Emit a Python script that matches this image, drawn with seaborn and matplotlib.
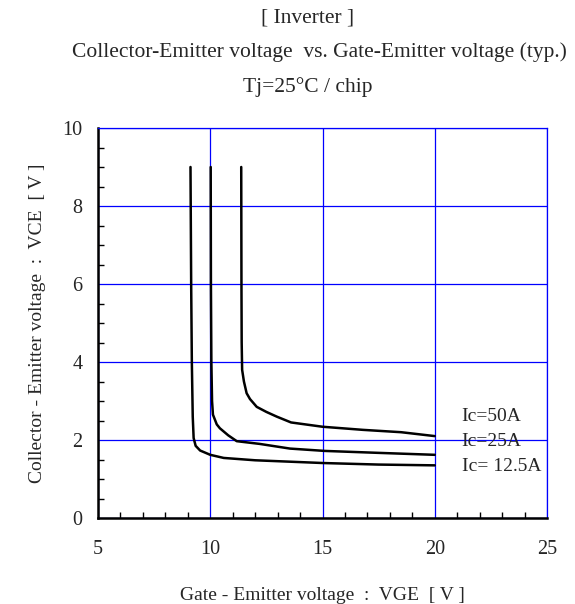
import pandas as pd
import seaborn as sns
import matplotlib.pyplot as plt
from matplotlib.ticker import MultipleLocator

# curve data (VGE [V], VCE [V])
vge_50 = [11.38, 11.39, 11.40, 11.42, 11.50, 11.62, 11.77, 12.07, 12.5, 12.96, 13.6, 15.0, 16.8, 18.5, 20.0]
vce_50 = [9.0, 6.0, 4.5, 3.8, 3.5, 3.2, 3.05, 2.85, 2.72, 2.6, 2.45, 2.34, 2.26, 2.2, 2.1]

vge_25 = [10.02, 10.03, 10.05, 10.08, 10.12, 10.29, 10.43, 10.8, 11.18, 12.2, 13.55, 15.1, 17.5, 20.0]
vce_25 = [9.0, 6.0, 4.0, 3.0, 2.65, 2.4, 2.3, 2.12, 1.97, 1.90, 1.78, 1.72, 1.67, 1.62]

vge_12 = [9.12, 9.15, 9.18, 9.22, 9.26, 9.35, 9.55, 10.0, 10.6, 12.0, 15.0, 17.5, 20.0]
vce_12 = [9.0, 6.0, 4.0, 2.6, 2.05, 1.85, 1.73, 1.62, 1.54, 1.48, 1.41, 1.37, 1.35]

curve_labels = ["Ic=50A", "Ic=25A", "Ic= 12.5A"]
label_vce = [2.6, 1.95, 1.33]

frames = []
for name, xs, ys in zip(curve_labels, [vge_50, vge_25, vge_12], [vce_50, vce_25, vce_12]):
    frames.append(pd.DataFrame({"VGE": xs, "VCE": ys, "Ic": name}))
df = pd.concat(frames, ignore_index=True)

sns.set_style("white")
plt.rcParams['font.family'] = ['Liberation Serif', 'DejaVu Serif']

fig = plt.figure(figsize=(5.75, 6.04), dpi=100)
ax = fig.add_axes([98 / 575, 1 - 518 / 604, 449 / 575, 390 / 604])

sns.lineplot(data=df, x="VGE", y="VCE", units="Ic", estimator=None, sort=False,
             color="black", linewidth=1.8, ax=ax)

for name, yv in zip(curve_labels, label_vce):
    ax.text(21.2, yv, name, fontsize=14, va="center", ha="left")

ax.set_xlim(5, 25)
ax.set_ylim(0, 10)
ax.xaxis.set_major_locator(MultipleLocator(5))
ax.xaxis.set_minor_locator(MultipleLocator(1))
ax.yaxis.set_major_locator(MultipleLocator(2))
ax.yaxis.set_minor_locator(MultipleLocator(0.5))
ax.grid(True, which="major", color="#0000ff", linewidth=0.9)
ax.tick_params(which="both", direction="in", bottom=True, left=True, labelsize=14.5)
ax.tick_params(which="major", length=0)
ax.tick_params(which="minor", length=4, width=1, color="black")
ax.tick_params(axis="x", pad=16)
ax.tick_params(axis="y", pad=11)

for s in ["left", "bottom"]:
    ax.spines[s].set_color("black")
    ax.spines[s].set_linewidth(1.8)
for s in ["top", "right"]:
    ax.spines[s].set_color("#0000ff")
    ax.spines[s].set_linewidth(0.9)

ax.set_xlabel("Gate - Emitter voltage  :  VGE  [ V ]", fontsize=14, labelpad=20)
ax.set_ylabel("Collector - Emitter voltage  :  VCE  [ V ]", fontsize=14, labelpad=12)

fig.text(0.535, 1 - 18 / 604, "[ Inverter ]", fontsize=15.5, ha="center", va="center")
fig.text(0.555, 1 - 52 / 604, "Collector-Emitter voltage  vs. Gate-Emitter voltage (typ.)",
         fontsize=15.5, ha="center", va="center")
fig.text(0.535, 1 - 87 / 604, "Tj=25°C / chip", fontsize=15.5, ha="center", va="center")

plt.savefig("out.png", format="png")
